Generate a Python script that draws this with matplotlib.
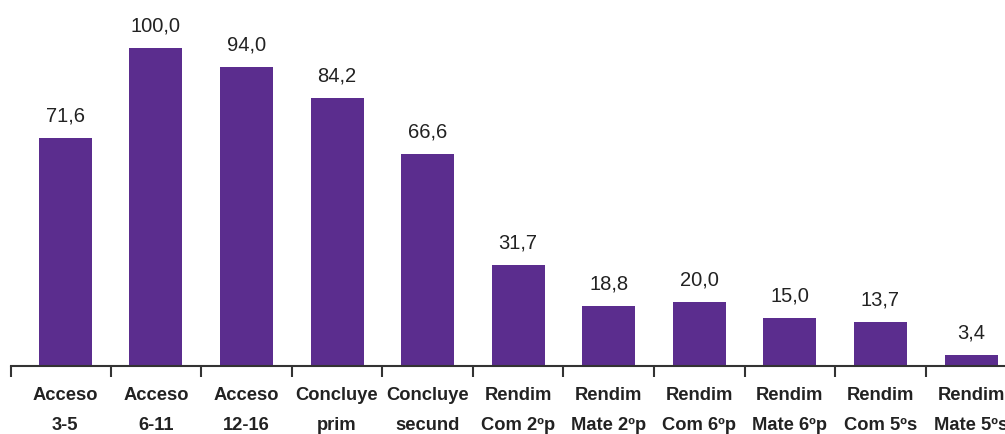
"""
Bar chart of access, completion and performance indicators
"""

import matplotlib.pyplot as plt
from matplotlib.ticker import FixedLocator
import numpy as np

# Data
categories = ['Acceso\n3-5', 'Acceso\n6-11', 'Acceso\n12-16',
              'Concluye\nprim', 'Concluye\nsecund',
              'Rendim\nCom 2ºp', 'Rendim\nMate 2ºp',
              'Rendim\nCom 6ºp', 'Rendim\nMate 6ºp',
              'Rendim\nCom 5ºs', 'Rendim\nMate 5ºs']
values = [71.6, 100.0, 94.0, 84.2, 66.6, 31.7, 18.8, 20.0, 15.0, 13.7, 3.4]
value_labels = ['71,6', '100,0', '94,0', '84,2', '66,6', '31,7',
                '18,8', '20,0', '15,0', '13,7', '3,4']

font = ['Liberation Sans Narrow', 'Liberation Sans', 'DejaVu Sans']
bar_color = '#5b2d8e'
text_color = '#222222'

fig = plt.figure(figsize=(10.05, 4.34), dpi=100)
ax = fig.add_axes([11 / 1005, 68 / 434, 1 - 11 / 1005, 350 / 434])

x = np.arange(len(categories))
ax.bar(x, values, width=0.585, color=bar_color, zorder=2)

# Value labels above the bars
for xi, val, lab in zip(x, values, value_labels):
    ax.annotate(lab, (xi, val), xytext=(0, 12), textcoords='offset points',
                ha='center', va='baseline', fontsize=14.5,
                color=text_color, family=font)

ax.set_xlim(-0.6, 10.375)
ax.set_ylim(0, 110.06)

# Major ticks between the bars, category names as minor tick labels
ax.xaxis.set_major_locator(FixedLocator([-0.6] + list(x[:-1] + 0.5)))
ax.xaxis.set_major_formatter(plt.NullFormatter())
ax.xaxis.set_minor_locator(FixedLocator(x))
ax.set_xticklabels(categories, minor=True, fontsize=13.2, fontweight='bold',
                   color=text_color, family=font, linespacing=2.0)
ax.tick_params(axis='x', which='major', length=8, width=1.5,
               color='#333333', direction='out')
ax.tick_params(axis='x', which='minor', length=0, pad=15)

ax.set_yticks([])
for side in ['top', 'right', 'left']:
    ax.spines[side].set_visible(False)
ax.spines['bottom'].set_color('#333333')
ax.spines['bottom'].set_linewidth(1.5)

plt.savefig('out.png', dpi=100)
